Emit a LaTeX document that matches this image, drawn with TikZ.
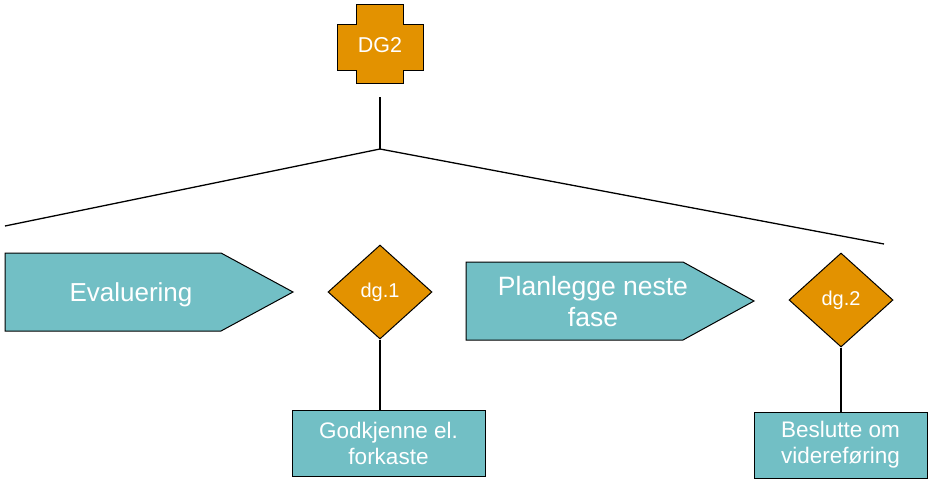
\documentclass[tikz,border=0pt]{standalone}
\usepackage{fontspec}
\setmainfont{Liberation Sans}
\usetikzlibrary{shapes.geometric}
\definecolor{teal}{HTML}{72BFC5}
\definecolor{orng}{HTML}{E39200}
\tikzset{
  shp/.style={draw=black, line width=1pt},
  conn/.style={draw=black, line width=1.3pt},
  wtxt/.style={text=white, align=center, inner sep=0pt},
  decis/.style={shp, fill=orng, diamond, minimum width=104pt, minimum height=94pt, inner sep=0pt, text=white, font=\fontsize{20}{23}\selectfont},
  outbox/.style={shp, fill=teal, rectangle, inner sep=0pt, text=white, align=center, font=\fontsize{22.5}{26}\selectfont}
}
\begin{document}
\begin{tikzpicture}[x=1pt,y=-1pt]
\useasboundingbox (0,0) rectangle (928,479);
% DG2 cross
\draw[shp, fill=orng] (356,4) -- (403,4) -- (403,24) -- (423,24) -- (423,70) -- (403,70) -- (403,83) -- (356,83) -- (356,70) -- (337,70) -- (337,24) -- (356,24) -- cycle;
\node[wtxt, font=\fontsize{21.5}{24}\selectfont] (dg2) at (380,45) {DG2};
% tree lines
\coordinate (top) at (380,97);
\coordinate (hub) at (380,149);
\coordinate (lend) at (5,226);
\coordinate (rend) at (884,244);
\draw[conn] (top) -- (hub);
\draw[conn] (lend) -- (hub) -- (rend);
% arrows
\draw[shp, fill=teal] (5,253) -- (221,253) -- (293,292) -- (221,331) -- (5,331) -- cycle;
\node[wtxt, font=\fontsize{26}{30}\selectfont] (eval) at (131,295) {Evaluering};
\draw[shp, fill=teal] (466,262) -- (683,262) -- (754,301) -- (683,340) -- (466,340) -- cycle;
\node[wtxt, font=\fontsize{26.5}{31}\selectfont] (plan) at (593,302) {Planlegge neste\\fase};
% decisions
\node[decis] (d1) at (380,292) {dg.1};
\node[decis] (d2) at (841,300) {dg.2};
% outcome boxes
\node[outbox, minimum width=193pt, minimum height=66pt] (b1) at (388.5,443) {Godkjenne el.\\forkaste};
\node[outbox, minimum width=173pt, minimum height=66pt] (b2) at (840.5,445) {Beslutte om\\videreføring};
\draw[conn] (d1.south) -- (d1.south |- b1.north);
\draw[conn] (d2.south) -- (d2.south |- b2.north);
\end{tikzpicture}
\end{document}
